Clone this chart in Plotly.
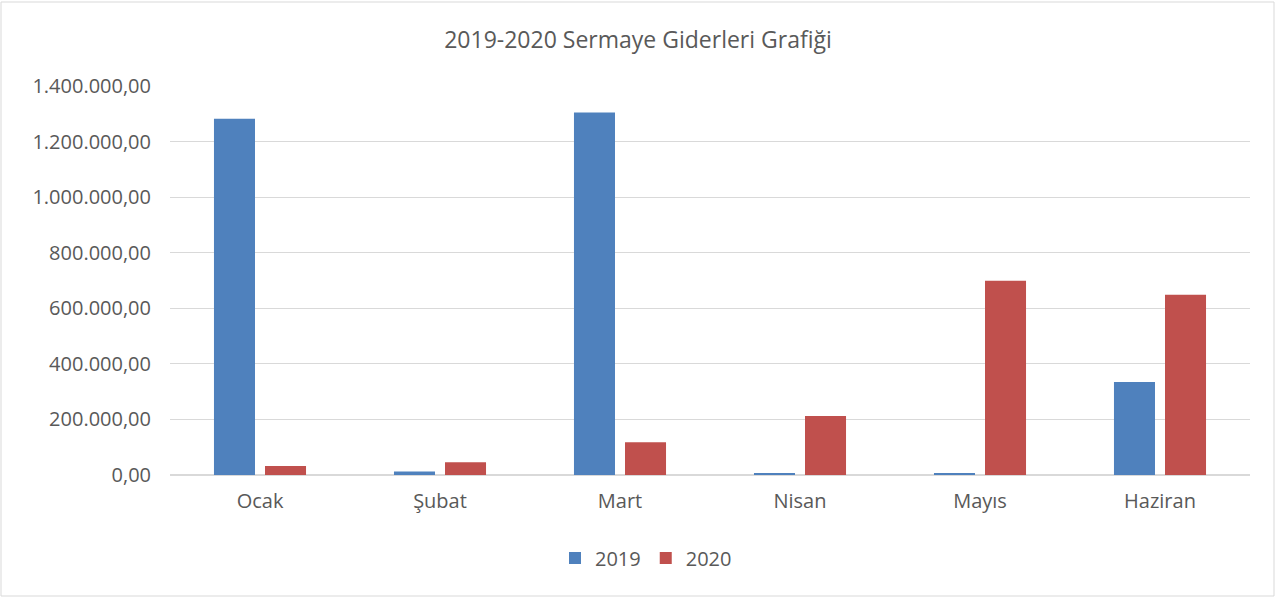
import plotly.graph_objects as go

months = ["Ocak", "Şubat", "Mart", "Nisan", "Mayıs", "Haziran"]
values_2019 = [1282000, 13000, 1305000, 7000, 7000, 335000]
values_2020 = [32000, 46000, 118000, 212000, 699000, 649000]

fig = go.Figure()
fig.add_trace(go.Bar(name="2019", x=months, y=values_2019, marker_color="#4f81bd",
                     marker_line_width=0))
fig.add_trace(go.Bar(name="2020", x=months, y=values_2020, marker_color="#c0504d",
                     marker_line_width=0))

font_family = "Open Sans, Liberation Sans, sans-serif"
fig.update_layout(
    width=1276, height=598,
    margin=dict(l=170, r=26, t=86, b=123),
    paper_bgcolor="white", plot_bgcolor="white",
    separators=",.",
    barmode="group", bargap=0.433, bargroupgap=0.196,
    title=dict(text="2019-2020 Sermaye Giderleri Grafiği", x=0.5, xanchor="center",
               y=1 - 40 / 598, yanchor="middle",
               font=dict(family=font_family, size=23, color="#595959")),
    font=dict(family=font_family, size=20, color="#595959"),
    legend=dict(orientation="h", x=(646 - 170) / 1080, xanchor="center",
                y=-(558 - 475) / 389, yanchor="middle",
                font=dict(size=20, color="#595959"), itemwidth=30),
    showlegend=True,
)
fig.update_yaxes(range=[0, 1400000], dtick=200000, tickformat=",.2f",
                 showgrid=True, gridcolor="#d9d9d9", gridwidth=1,
                 zeroline=True, zerolinecolor="#d9d9d9", zerolinewidth=2,
                 ticks="", ticklen=0, showline=False, ticklabelstandoff=18,
                 tickfont=dict(size=20, color="#595959"))
fig.update_xaxes(showline=False, ticks="", ticklabelstandoff=12,
                 tickfont=dict(size=20, color="#595959"))

fig.add_shape(type="rect", xref="paper", yref="paper",
              x0=(1 - 170) / 1080, x1=(1274 - 170) / 1080,
              y0=(475 - 596) / 389, y1=(475 - 2) / 389,
              line=dict(color="#d9d9d9", width=1), fillcolor="rgba(0,0,0,0)", layer="below")

fig.write_html("out.html", config={"displayModeBar": False},
               post_script="document.body.style.margin='0';")
